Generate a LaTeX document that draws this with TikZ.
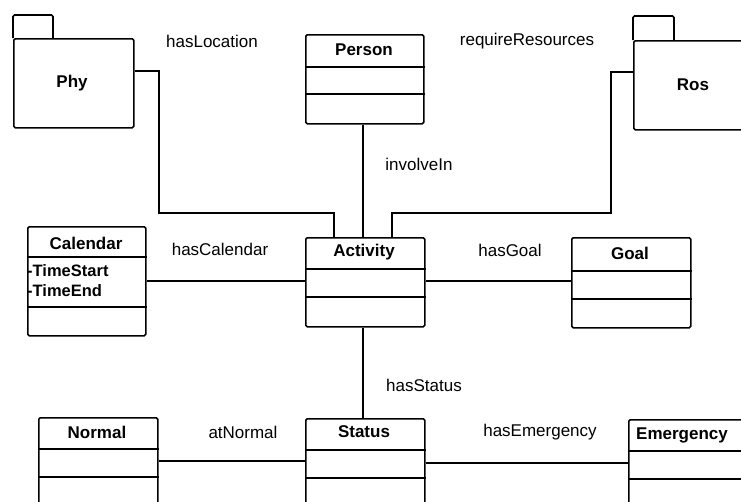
\documentclass[tikz,border=0pt]{standalone}
\usepackage{fontspec}
\setmainfont{Liberation Sans}
\begin{document}
\begin{tikzpicture}[x=1pt,y=-1pt,
  every node/.style={font=\fontsize{17}{20}\selectfont, inner sep=0pt},
  box/.style={draw, line width=1.6pt, rounded corners=1.5pt, anchor=north west},
  title/.style={font=\fontsize{17}{20}\selectfont\bfseries},
  label/.style={font=\fontsize{17}{20}\selectfont},
  attr/.style={font=\fontsize{16.5}{20}\selectfont\bfseries, anchor=west},
  divider/.style={line width=1.6pt},
  conn/.style={line width=1.6pt}]
\useasboundingbox (0,0) rectangle (741,501);
\clip (0,0) rectangle (741,501);

% packages
\draw[line width=1.6pt, rounded corners=1.5pt] (13,38) |- (53,15) -- (53,38);
\node[box, minimum width=120pt, minimum height=89pt] (phy) at (13,38) {};
\node[title] (phyT) at (72,83) {Phy};

\draw[line width=1.6pt, rounded corners=1.5pt] (633,40) |- (674,16) -- (674,40);
\node[box, minimum width=130pt, minimum height=89pt] (ros) at (633,40) {};
\node[title] (rosT) at (693,85) {Ros};

% classes
\node[box, minimum width=118pt, minimum height=89pt] (person) at (305,34) {};
\node[title] (personT) at (364,50) {Person};
\draw[divider] (person.west |- 0,67) -- (person.east |- 0,67);
\draw[divider] (person.west |- 0,94) -- (person.east |- 0,94);

\node[box, minimum width=118pt, minimum height=109pt] (calendar) at (27,226) {};
\node[title] (calendarT) at (86,243) {Calendar};
\draw[divider] (calendar.west |- 0,257) -- (calendar.east |- 0,257);
\draw[divider] (calendar.west |- 0,307) -- (calendar.east |- 0,307);
\node[attr] (tstart) at (27,271) {-TimeStart};
\node[attr] (tend) at (27,291) {-TimeEnd};

\node[box, minimum width=119pt, minimum height=89pt] (activity) at (305,237) {};
\node[title] (activityT) at (364,252) {Activity};
\draw[divider] (activity.west |- 0,269) -- (activity.east |- 0,269);
\draw[divider] (activity.west |- 0,297) -- (activity.east |- 0,297);

\node[box, minimum width=119pt, minimum height=90pt] (goal) at (571,237) {};
\node[title] (goalT) at (630,253) {Goal};
\draw[divider] (goal.west |- 0,271) -- (goal.east |- 0,271);
\draw[divider] (goal.west |- 0,299) -- (goal.east |- 0,299);

\node[box, minimum width=119pt, minimum height=110pt] (normal) at (38,417) {};
\node[title] (normalT) at (97,432) {Normal};
\draw[divider] (normal.west |- 0,449) -- (normal.east |- 0,449);
\draw[divider] (normal.west |- 0,477) -- (normal.east |- 0,477);

\node[box, minimum width=119pt, minimum height=110pt] (status) at (305,418) {};
\node[title] (statusT) at (364,432) {Status};
\draw[divider] (status.west |- 0,450) -- (status.east |- 0,450);
\draw[divider] (status.west |- 0,478) -- (status.east |- 0,478);

\node[box, minimum width=130pt, minimum height=110pt] (emergency) at (628,419) {};
\node[title] (emergencyT) at (682,435) {Emergency};
\draw[divider] (emergency.west |- 0,451) -- (emergency.east |- 0,451);
\draw[divider] (emergency.west |- 0,479) -- (emergency.east |- 0,479);

% associations
\draw[conn] (phy.east |- 0,71) -| (159,213) -| (activity.north -| 334,0);
\draw[conn] (ros.west |- 0,72) -| (611,213) -| (activity.north -| 392,0);
\draw[conn] (person.south -| 363,0) -- (activity.north -| 363,0);
\draw[conn] (calendar.east |- 0,281) -- (activity.west |- 0,281);
\draw[conn] (activity.east |- 0,281) -- (goal.west |- 0,281);
\draw[conn] (activity.south -| 363,0) -- (status.north -| 363,0);
\draw[conn] (normal.east |- 0,461) -- (status.west |- 0,461);
\draw[conn] (status.east |- 0,463) -- (emergency.west |- 0,463);

% association labels
\node[label] (lLoc) at (212,41) {hasLocation};
\node[label] (lRes) at (527,41) {requireResources};
\node[label] (lInv) at (419,164) {involveIn};
\node[label] (lCal) at (220,249) {hasCalendar};
\node[label] (lGoal) at (510,250) {hasGoal};
\node[label] (lStat) at (424,385) {hasStatus};
\node[label] (lNorm) at (243,432) {atNormal};
\node[label] (lEmer) at (540,432) {hasEmergency};
\end{tikzpicture}
\end{document}
